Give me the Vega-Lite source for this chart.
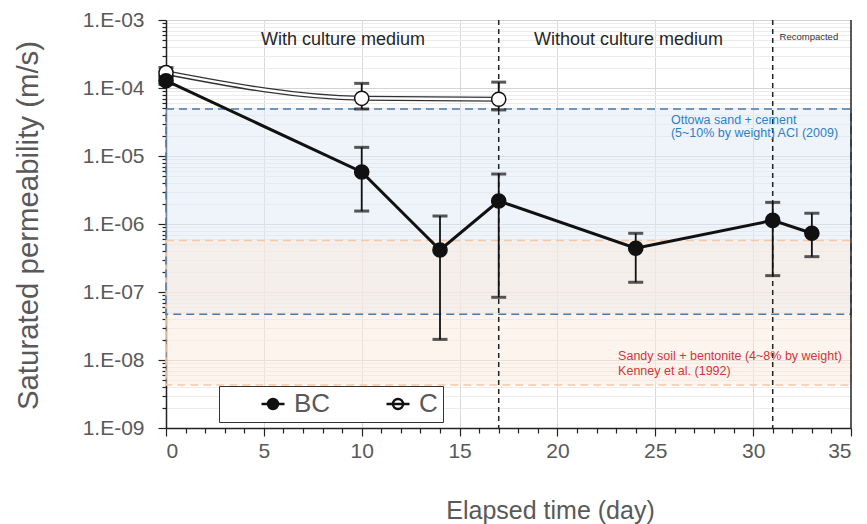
{
  "$schema": "https://vega.github.io/schema/vega-lite/v6.json",
  "width": 685,
  "height": 408,
  "autosize": "none",
  "padding": {"left": 166, "top": 20, "right": 16, "bottom": 96},
  "background": "white",
  "config": {"view": {"stroke": null}, "font": "Liberation Sans"},
  "datasets": {
    "meas": [
      {"series": "C", "day": 0, "k": 1.68e-4},
      {"series": "C", "day": 10, "k": 7.05e-5},
      {"series": "C", "day": 17, "k": 6.83e-5},
      {"series": "BC", "day": 0, "k": 1.28e-4},
      {"series": "BC", "day": 10, "k": 5.82e-6},
      {"series": "BC", "day": 14, "k": 4.15e-7},
      {"series": "BC", "day": 17, "k": 2.18e-6},
      {"series": "BC", "day": 24, "k": 4.4e-7},
      {"series": "BC", "day": 31, "k": 1.13e-6},
      {"series": "BC", "day": 33, "k": 7.3e-7}
    ],
    "errs": [
      {"series": "C", "day": 0, "k": 1.5e-4, "k2": 2.0e-4},
      {"series": "C", "day": 10, "k": 4.91e-5, "k2": 1.17e-4},
      {"series": "C", "day": 17, "k": 4.76e-5, "k2": 1.22e-4},
      {"series": "BC", "day": 0, "k": 1.13e-4, "k2": 1.45e-4},
      {"series": "BC", "day": 10, "k": 1.55e-6, "k2": 1.34e-5},
      {"series": "BC", "day": 14, "k": 2.01e-8, "k2": 1.31e-6},
      {"series": "BC", "day": 17, "k": 8.36e-8, "k2": 5.43e-6},
      {"series": "BC", "day": 24, "k": 1.39e-7, "k2": 7.3e-7},
      {"series": "BC", "day": 31, "k": 1.74e-7, "k2": 2.08e-6},
      {"series": "BC", "day": 33, "k": 3.31e-7, "k2": 1.44e-6}
    ],
    "caps": [
      {"day": 0, "k": 1.5e-4}, {"day": 0, "k": 2.0e-4},
      {"day": 10, "k": 4.91e-5}, {"day": 10, "k": 1.17e-4},
      {"day": 17, "k": 4.76e-5}, {"day": 17, "k": 1.22e-4},
      {"day": 0, "k": 1.13e-4}, {"day": 0, "k": 1.45e-4},
      {"day": 10, "k": 1.55e-6}, {"day": 10, "k": 1.34e-5},
      {"day": 14, "k": 2.01e-8}, {"day": 14, "k": 1.31e-6},
      {"day": 17, "k": 8.36e-8}, {"day": 17, "k": 5.43e-6},
      {"day": 24, "k": 1.39e-7}, {"day": 24, "k": 7.3e-7},
      {"day": 31, "k": 1.74e-7}, {"day": 31, "k": 2.08e-6},
      {"day": 33, "k": 3.31e-7}, {"day": 33, "k": 1.44e-6}
    ],
    "bands": [
      {"band": "Kenney", "day": 0, "day2": 35, "k": 4.3e-9, "k2": 5.7e-7},
      {"band": "ACI", "day": 0, "day2": 35, "k": 4.7e-8, "k2": 4.9e-5}
    ],
    "phases": [{"day": 17}, {"day": 31}],
    "edge": [{"day": 35}],
    "notes": [
      {"kind": "head", "day": 9.04, "k": 5.09e-4, "text": "With culture medium"},
      {"kind": "head", "day": 23.63, "k": 5.09e-4, "text": "Without culture medium"},
      {"kind": "small", "day": 31.35, "k": 5.7e-4, "text": "Recompacted"},
      {"kind": "blue", "day": 25.8, "k": 3.38e-5, "text": "Ottowa sand + cement"},
      {"kind": "blue", "day": 25.8, "k": 2.16e-5, "text": "(5~10% by weight) ACI (2009)"},
      {"kind": "red", "day": 23.1, "k": 1.16e-8, "text": "Sandy soil + bentonite (4~8% by weight)"},
      {"kind": "red", "day": 23.1, "k": 6.97e-9, "text": "Kenney et al. (1992)"}
    ]
  },
  "encoding": {
    "x": {
      "field": "day", "type": "quantitative",
      "scale": {"domain": [0, 35], "nice": false, "zero": false},
      "axis": {
        "title": "Elapsed time (day)",
        "values": [0,1,2,3,4,5,6,7,8,9,10,11,12,13,14,15,16,17,18,19,20,21,22,23,24,25,26,27,28,29,30,31,32,33,34,35],
        "labelExpr": "datum.value % 5 == 0 ? '' + datum.value : ''",
        "labelOverlap": false,
        "labelFontSize": 21,
        "labelColor": "#595959",
        "labelPadding": 4,
        "domainColor": "#222",
        "domainWidth": 1.5,
        "tickColor": "#222",
        "tickWidth": 1.2,
        "tickSize": {"condition": {"test": "datum.value % 5 == 0", "value": 8}, "value": 5},
        "grid": true,
        "gridColor": "#d9d9d9",
        "gridWidth": 1,
        "gridOpacity": {"condition": {"test": "datum.value % 5 == 0 && datum.value > 0 && datum.value < 35", "value": 1}, "value": 0},
        "titleFontSize": 25,
        "titleFontWeight": "normal",
        "titleColor": "#595959",
        "titleX": 384,
        "titleY": 82,
        "titleAlign": "center",
        "titleBaseline": "middle"
      }
    },
    "y": {
      "field": "k", "type": "quantitative",
      "scale": {"type": "log", "domain": [1e-9, 1e-3], "nice": false},
      "axis": {
        "title": "Saturated permeability (m/s)",
        "values": [1e-9,2e-9,3e-9,4e-9,5e-9,6e-9,7e-9,8e-9,9e-9,1e-8,2e-8,3e-8,4e-8,5e-8,6e-8,7e-8,8e-8,9e-8,1e-7,2e-7,3e-7,4e-7,5e-7,6e-7,7e-7,8e-7,9e-7,1e-6,2e-6,3e-6,4e-6,5e-6,6e-6,7e-6,8e-6,9e-6,1e-5,2e-5,3e-5,4e-5,5e-5,6e-5,7e-5,8e-5,9e-5,1e-4,2e-4,3e-4,4e-4,5e-4,6e-4,7e-4,8e-4,9e-4,1e-3],
        "labelExpr": "abs(log(datum.value)/LN10 - round(log(datum.value)/LN10)) < 0.001 ? '1.E-0' + (-round(log(datum.value)/LN10)) : ''",
        "labelOverlap": false,
        "labelBound": false,
        "labelFontSize": 21,
        "labelColor": "#595959",
        "labelPadding": 14,
        "domainColor": "#222",
        "domainWidth": 1.5,
        "tickColor": "#222",
        "tickWidth": 1.2,
        "tickSize": {"condition": {"test": "abs(log(datum.value)/LN10 - round(log(datum.value)/LN10)) < 0.001", "value": 8}, "value": 4},
        "grid": true,
        "gridColor": {"condition": {"test": "abs(log(datum.value)/LN10 - round(log(datum.value)/LN10)) < 0.001", "value": "#d4d4d4"}, "value": "#ebebeb"},
        "gridWidth": 1,
        "titleFontSize": 29.4,
        "titleFontWeight": "normal",
        "titleColor": "#595959",
        "titleX": -138,
        "titleY": 205,
        "titleAngle": -90,
        "titleAlign": "center",
        "titleBaseline": "middle"
      }
    }
  },
  "layer": [
    {
      "data": {"name": "bands"},
      "transform": [{"filter": "datum.band == 'ACI'"}],
      "mark": {"type": "rect", "fill": "#dfe9f5", "fillOpacity": 0.5},
      "encoding": {"x2": {"field": "day2"}, "y2": {"field": "k2"}}
    },
    {
      "data": {"name": "bands"},
      "transform": [{"filter": "datum.band == 'Kenney'"}],
      "mark": {"type": "rect", "fill": "#fbe9dd", "fillOpacity": 0.5},
      "encoding": {"x2": {"field": "day2"}, "y2": {"field": "k2"}}
    },
    {
      "data": {"name": "bands"},
      "transform": [{"filter": "datum.band == 'Kenney'"}],
      "mark": {"type": "rect", "fillOpacity": 0, "stroke": "#f5c8a5", "strokeWidth": 1.5, "strokeDash": [8, 5]},
      "encoding": {"x2": {"field": "day2"}, "y2": {"field": "k2"}}
    },
    {
      "data": {"name": "bands"},
      "transform": [{"filter": "datum.band == 'ACI'"}],
      "mark": {"type": "rect", "fillOpacity": 0, "stroke": "#4a78a8", "strokeWidth": 1.5, "strokeDash": [8, 5]},
      "encoding": {"x2": {"field": "day2"}, "y2": {"field": "k2"}}
    },
    {
      "data": {"name": "phases"},
      "mark": {"type": "rule", "color": "#222", "strokeWidth": 1.5, "strokeDash": [5, 4]},
      "encoding": {"y": null}
    },
    {
      "data": {"name": "edge"},
      "mark": {"type": "rule", "color": "#222", "strokeWidth": 1.5},
      "encoding": {"y": null}
    },
    {
      "data": {"name": "meas"},
      "transform": [{"filter": "datum.series == 'C'"}],
      "mark": {"type": "line", "color": "#333", "strokeWidth": 5, "interpolate": "monotone"},
      "encoding": {}
    },
    {
      "data": {"name": "meas"},
      "transform": [{"filter": "datum.series == 'C'"}],
      "mark": {"type": "line", "color": "white", "strokeWidth": 2.4, "interpolate": "monotone"},
      "encoding": {}
    },
    {
      "data": {"name": "meas"},
      "transform": [{"filter": "datum.series == 'BC'"}],
      "mark": {"type": "line", "color": "#111", "strokeWidth": 3},
      "encoding": {}
    },
    {
      "data": {"name": "errs"},
      "mark": {"type": "rule", "color": "#111", "strokeWidth": 1.8},
      "encoding": {"y2": {"field": "k2"}}
    },
    {
      "data": {"name": "caps"},
      "mark": {"type": "tick", "orient": "horizontal", "color": "#111", "size": 15, "thickness": 3},
      "encoding": {}
    },
    {
      "data": {"name": "meas"},
      "mark": {"type": "point", "shape": "circle", "filled": true, "stroke": "#111", "strokeWidth": 1.5, "size": 200, "opacity": 1},
      "encoding": {
        "fill": {
          "field": "series", "type": "nominal",
          "scale": {"domain": ["BC", "C"], "range": ["#111111", "#ffffff"]},
          "legend": {
            "title": null,
            "orient": "none",
            "legendX": 53,
            "legendY": 366,
            "direction": "horizontal",
            "columns": 2,
            "columnPadding": 18,
            "padding": 5,
            "fillColor": "white",
            "strokeColor": "#333",
            "symbolType": "M-1.15,0H1.15M0.5,0A0.5,0.5,0,1,1,-0.5,0A0.5,0.5,0,1,1,0.5,0Z",
            "symbolSize": 400,
            "symbolStrokeColor": "#111",
            "symbolStrokeWidth": 2.5,
            "symbolOpacity": 1,
            "symbolOffset": 36,
            "labelFontSize": 26,
            "labelColor": "#595959",
            "labelOffset": 8
          }
        }
      }
    },
    {
      "data": {"name": "notes"},
      "transform": [{"filter": "datum.kind == 'head'"}],
      "mark": {"type": "text", "fontSize": 18, "color": "#262626", "align": "center", "baseline": "middle"},
      "encoding": {"text": {"field": "text"}}
    },
    {
      "data": {"name": "notes"},
      "transform": [{"filter": "datum.kind == 'small'"}],
      "mark": {"type": "text", "fontSize": 9.5, "color": "#333", "align": "left", "baseline": "middle"},
      "encoding": {"text": {"field": "text"}}
    },
    {
      "data": {"name": "notes"},
      "transform": [{"filter": "datum.kind == 'blue'"}],
      "mark": {"type": "text", "fontSize": 12.5, "color": "#2e7fc4", "align": "left", "baseline": "middle"},
      "encoding": {"text": {"field": "text"}}
    },
    {
      "data": {"name": "notes"},
      "transform": [{"filter": "datum.kind == 'red'"}],
      "mark": {"type": "text", "fontSize": 12.5, "color": "#d6333b", "align": "left", "baseline": "middle"},
      "encoding": {"text": {"field": "text"}}
    }
  ]
}
